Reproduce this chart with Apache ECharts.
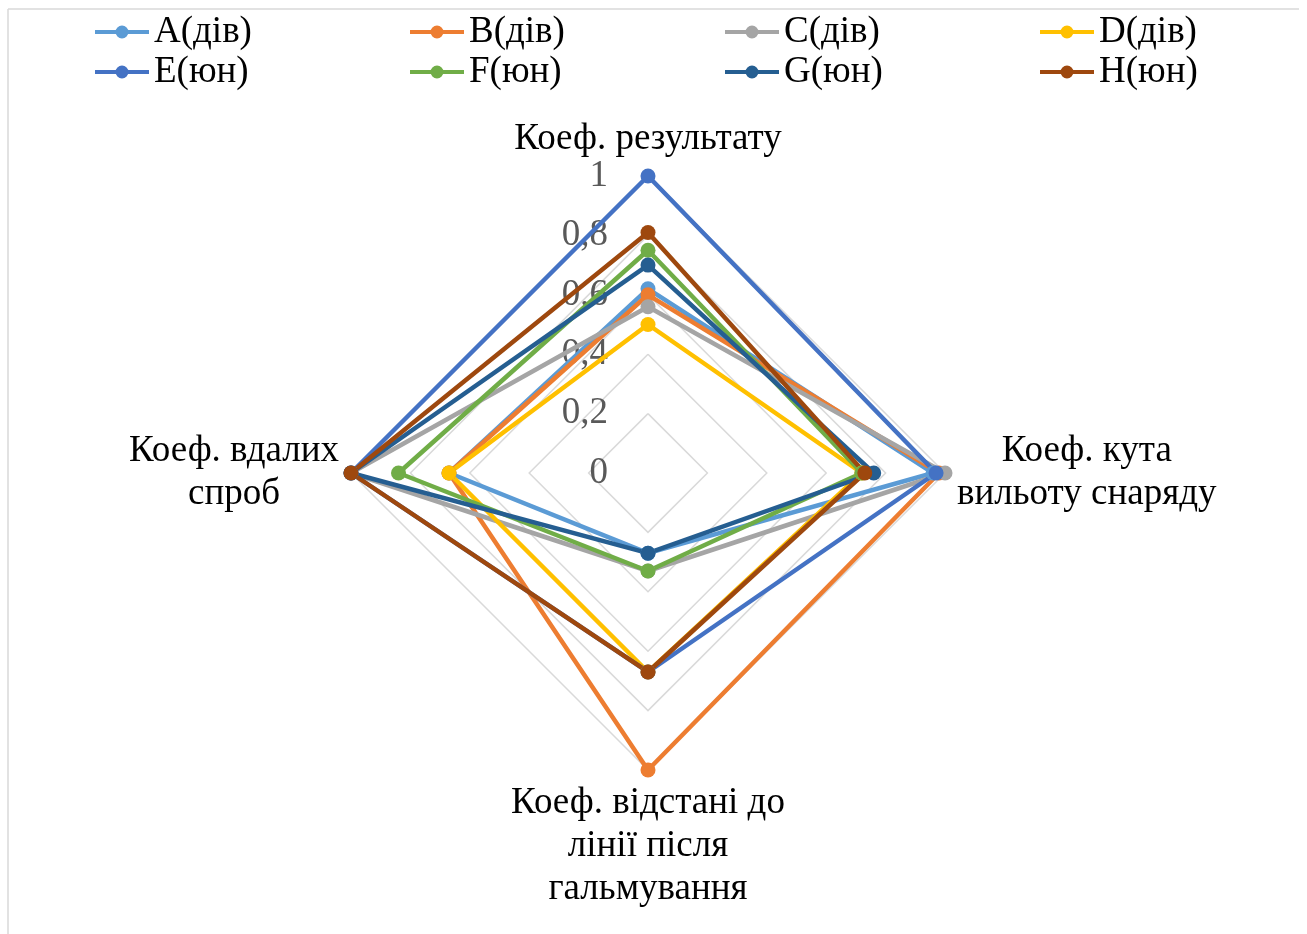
<!DOCTYPE html>
<html>
<head>
<meta charset="utf-8">
<script src="https://cdn.jsdelivr.net/npm/echarts@6/dist/echarts.min.js"></script>
<style>
html,body{margin:0;padding:0;background:#fff;}
#main{width:1307px;height:934px;}
</style>
</head>
<body>
<div id="main"></div>
<script>
// Indicators (counter-clockwise from top)
const indicatorNames = [
  'Коеф. результату',
  'Коеф. вдалих\nспроб',
  'Коеф. відстані до\nлінії після\nгальмування',
  'Коеф. кута\nвильоту снаряду'
];
const seriesNames = ['A(дів)', 'B(дів)', 'C(дів)', 'D(дів)', 'E(юн)', 'F(юн)', 'G(юн)', 'H(юн)'];
const colors = ['#5B9BD5', '#ED7D31', '#A5A5A5', '#FFC000', '#4472C4', '#70AD47', '#255E91', '#9E480E'];
// values in indicator order: [result, success, distance, angle]
const A = [0.62, 0.67, 0.27, 0.96];
const B = [0.60, 0.67, 1.00, 0.98];
const C = [0.56, 1.00, 0.33, 1.00];
const D = [0.50, 0.67, 0.67, 0.72];
const E = [1.00, 1.00, 0.67, 0.97];
const F = [0.75, 0.84, 0.33, 0.72];
const G = [0.70, 1.00, 0.27, 0.76];
const H = [0.81, 1.00, 0.67, 0.73];
const seriesValues = [A, B, C, D, E, F, G, H];
const tickLabels = ['0', '0,2', '0,4', '0,6', '0,8', '1'];

const chart = echarts.init(document.getElementById('main'));
const FONT = '"Liberation Serif", "Times New Roman", serif';
const iconPath = 'path://M0,5 H54 V9 H0 Z M20.5,7 A6.5,6.5 0 1 1 33.5,7 A6.5,6.5 0 1 1 20.5,7 Z';

const indicators = indicatorNames.map((n, i) => {
  const o = { name: n, min: 0, max: 1 };
  if (i === 0) {
    o.axisLabel = {
      show: true,
      fontFamily: FONT,
      fontSize: 37,
      color: '#595959',
      margin: 40,
      formatter: function (v) { return tickLabels[Math.round(v * 5)]; }
    };
  }
  return o;
});

function makeLegend(names, top) {
  return {
    left: 95,
    top: top,
    width: 1260,
    padding: 0,
    orient: 'horizontal',
    itemGap: 10,
    itemWidth: 54,
    itemHeight: 13,
    icon: iconPath,
    data: names,
    textStyle: {
      fontFamily: FONT,
      fontSize: 37,
      color: '#000',
      width: 246,
      lineHeight: 40,
      overflow: 'none'
    }
  };
}

const option = {
  animation: false,
  backgroundColor: '#fff',
  color: colors,
  graphic: [
    { type: 'line', shape: { x1: 8, y1: 9, x2: 1299, y2: 9 }, style: { stroke: '#d9d9d9', lineWidth: 1.5 } },
    { type: 'line', shape: { x1: 8, y1: 9, x2: 8, y2: 934 }, style: { stroke: '#d9d9d9', lineWidth: 1.5 } }
  ],
  legend: [
    makeLegend(seriesNames.slice(0, 4), 12),
    makeLegend(seriesNames.slice(4), 52)
  ],
  radar: {
    center: [648, 473],
    radius: 297,
    startAngle: 90,
    shape: 'polygon',
    splitNumber: 5,
    indicator: indicators,
    nameGap: 12,
    axisName: {
      color: '#000',
      fontFamily: FONT,
      fontSize: 37,
      formatter: function (name) {
        const lines = name.split('\n');
        const style = lines.length === 1 ? 't' : 'c';
        return lines.map(l => '{' + style + '|' + l + '}').join('\n');
      },
      rich: {
        c: {
          fontFamily: FONT,
          fontSize: 37,
          lineHeight: 43,
          color: '#000',
          align: 'center'
        },
        t: {
          fontFamily: FONT,
          fontSize: 37,
          lineHeight: 19,
          padding: [0, 0, -10, 0],
          color: '#000',
          align: 'center'
        }
      }
    },
    axisLine: { show: false },
    axisTick: { show: false },
    axisLabel: { show: false },
    splitLine: { lineStyle: { color: '#d9d9d9', width: 1.5 } },
    splitArea: { show: false }
  },
  series: [{
    type: 'radar',
    symbol: 'circle',
    symbolSize: 15,
    lineStyle: { width: 4.5 },
    data: seriesNames.map((n, i) => ({
      name: n,
      value: seriesValues[i],
      itemStyle: { color: colors[i] },
      lineStyle: { color: colors[i], width: 4.5 }
    }))
  }]
};
chart.setOption(option);
</script>
</body>
</html>
